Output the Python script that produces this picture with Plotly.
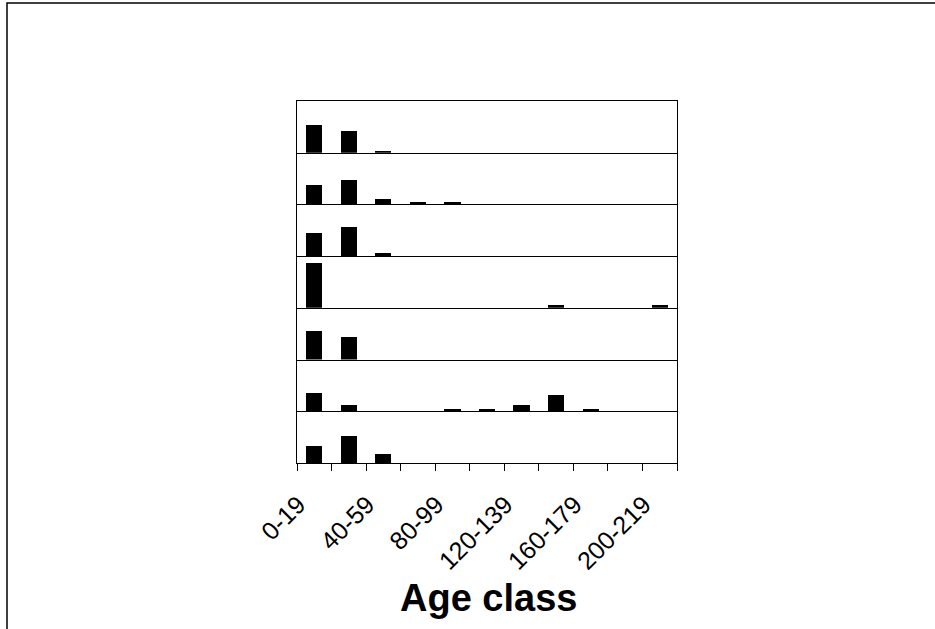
import plotly.graph_objects as go
from plotly.subplots import make_subplots

# Age classes (20-year bins) shared by every panel
age_classes = ["0-19", "20-39", "40-59", "60-79", "80-99", "100-119",
               "120-139", "140-159", "160-179", "180-199", "200-219"]
label_every = 2

# Percentage of stems per age class, one list per panel (top to bottom)
panel_1 = [54, 42, 4, 0, 0, 0, 0, 0, 0, 0, 0]
panel_2 = [39, 47, 12, 5, 5, 0, 0, 0, 0, 0, 0]
panel_3 = [43, 55, 5, 0, 0, 0, 0, 0, 0, 0, 0]
panel_4 = [86, 0, 0, 0, 0, 0, 0, 5, 0, 0, 5]
panel_5 = [55, 44, 0, 0, 0, 0, 0, 0, 0, 0, 0]
panel_6 = [36, 13, 0, 0, 5, 5, 13, 32, 5, 0, 0]
panel_7 = [32, 51, 17, 0, 0, 0, 0, 0, 0, 0, 0]
panels = [panel_1, panel_2, panel_3, panel_4, panel_5, panel_6, panel_7]

FONT = "Arial, Liberation Sans, sans-serif"
W, H = 935, 629
ML, MR, MT, MB = 297, 258, 101, 166

n = len(panels)
fig = make_subplots(rows=n, cols=1, shared_xaxes=True, vertical_spacing=0)

xpos = list(range(len(age_classes)))
for i, vals in enumerate(panels, start=1):
    fig.add_trace(
        go.Bar(x=xpos, y=vals, width=0.47, marker=dict(color="black", line=dict(width=0)),
               showlegend=False, hoverinfo="skip"),
        row=i, col=1,
    )
    fig.update_yaxes(range=[0, 100], showline=True, mirror=True, linecolor="black",
                     linewidth=1, showgrid=False, zeroline=False, showticklabels=False,
                     ticks="", row=i, col=1)
    fig.update_xaxes(range=[-0.5, len(age_classes) - 0.5], showline=True,
                     mirror=(i == 1), linecolor="black", linewidth=1,
                     showgrid=False, zeroline=False, showticklabels=False,
                     ticks="", row=i, col=1)

label_idx = list(range(0, len(age_classes), label_every))
fig.update_xaxes(
    row=n, col=1,
    showticklabels=True,
    tickmode="array",
    tickvals=label_idx,
    ticktext=[age_classes[k] for k in label_idx],
    tickangle=-45,
    tickfont=dict(family=FONT, size=25, color="black"),
    ticks="",
    minor=dict(tickmode="linear", tick0=-0.5, dtick=1, ticks="outside",
               ticklen=7, tickcolor="black", tickwidth=1, showgrid=False),
    ticklabelstandoff=16,
    ticklabelshift=-16,
)

# Axis title
fig.add_annotation(text="<b>Age class</b>", xref="paper", yref="paper",
                   x=(488.5 - ML) / (W - ML - MR), y=(463 - 598) / (H - MT - MB),
                   xanchor="center", yanchor="middle",
                   showarrow=False, font=dict(family=FONT, size=38, color="black"))

# Outer chart frame
pw, ph = W - ML - MR, H - MT - MB
fig.add_shape(type="rect", xref="paper", yref="paper",
              x0=(7 - ML) / pw, x1=(W + 20 - ML) / pw,
              y0=-(H + 20 - (H - MB)) / ph, y1=(H - MB - 3) / ph,
              line=dict(color="black", width=1.5), fillcolor="rgba(0,0,0,0)", layer="below")

fig.update_layout(
    width=W, height=H,
    margin=dict(l=ML, r=MR, t=MT, b=MB),
    paper_bgcolor="white", plot_bgcolor="white",
    bargap=0, showlegend=False,
)

fig.write_html("out.html")
